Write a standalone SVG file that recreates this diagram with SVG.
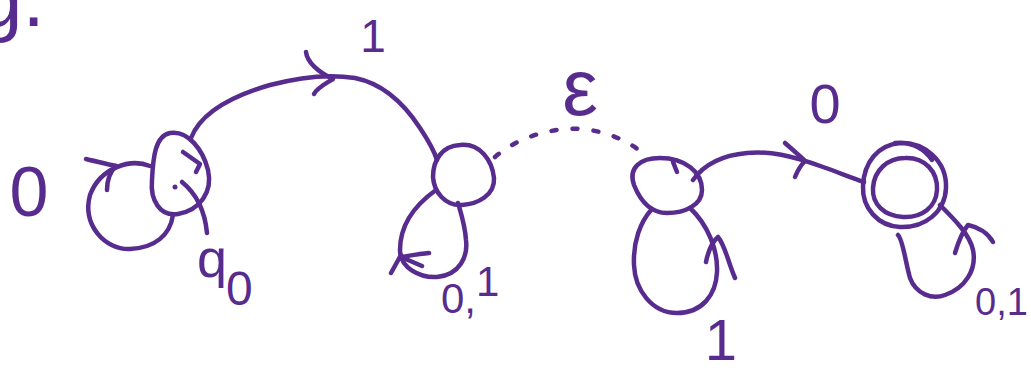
<svg xmlns="http://www.w3.org/2000/svg" width="1031" height="381" viewBox="0 0 1031 381">
  <style>
    .ink { fill: none; stroke: #582c8e; stroke-width: 4.5; stroke-linecap: round; stroke-linejoin: round; }
    .dotted { stroke-dasharray: 5 16; }
    .lbl { fill: #582c8e; font-family: "Liberation Sans", Arial, sans-serif; }
  </style>
  <rect width="1031" height="381" fill="#ffffff"/>

  <!-- heading fragment -->
  <text class="lbl" x="-22" y="26" font-size="80">g.</text>

  <!-- states -->
  <g id="q0">
    <path class="ink" d="M170,133 C188,130 203,150 208,170 C213,192 200,210 178,214 C160,217 150,200 152,180 C153,158 155,136 170,133 Z"/>
    <path class="ink" d="M183,152 L200,164 L196,172"/>
    <text class="lbl" x="197" y="277" font-size="54">q</text>
    <text class="lbl" x="226" y="305" font-size="48">0</text>
  </g>

  <g id="q1">
    <path class="ink" d="M460,145 C480,143 492,160 494,178 C495,195 478,204 462,205 C445,206 434,192 433,177 C433,160 442,146 460,145 Z"/>
  </g>

  <g id="q2">
    <path class="ink" d="M660,158 C685,158 702,172 702,190 C702,205 685,213 667,213 C650,213 640,200 634,185 C628,168 640,158 660,158 Z"/>
    <path class="ink" d="M673,162 L677,172"/>
  </g>

  <g id="q3">
    <path class="ink" d="M895,143 C925,140 947,162 946,188 C945,212 925,228 900,227 C878,226 862,208 863,186 C864,162 878,145 900,143 C915,143 925,150 932,160"/>
    <path class="ink" d="M905,158 C925,157 938,172 937,190 C936,207 922,218 903,217 C884,216 872,204 873,188 C874,170 888,158 905,158 Z"/>
  </g>

  <!-- transitions -->
  <g id="connectors">
    <!-- start arrow into q0 -->
    <path class="ink" d="M207,233 C205,212 198,195 182,182"/>
    <circle cx="175" cy="187" r="2.5" fill="#582c8e"/>

    <!-- q0 self loop on 0 -->
    <path class="ink" d="M150,166 C130,158 100,168 90,195 C82,225 105,250 130,249 C155,248 170,235 173,215"/>
    <path class="ink" d="M86,159 C98,162 108,164 116,166 M107,190 C107,180 110,172 116,166"/>

    <!-- q0 to q1 on 1 -->
    <path class="ink" d="M191,138 C200,115 225,98 270,85 C300,77 330,74 355,78 C385,84 405,105 420,128 C428,140 434,150 437,160"/>
    <path class="ink" d="M306,52 C307,62 318,72 333,79 C325,84 317,88 314,94"/>

    <!-- q1 self loop on 0,1 -->
    <path class="ink" d="M436,190 C415,205 400,225 400,250 C400,268 420,278 437,277 C460,275 468,256 466,240 C465,225 460,210 458,203"/>
    <path class="ink" d="M429,253 C418,254 408,256 401,257 C408,260 415,263 422,266 M401,255 L391,273"/>

    <!-- q1 to q2 on epsilon -->
    <path class="ink dotted" d="M495,157 C520,135 560,125 590,130 C615,134 635,145 648,158"/>

    <!-- q2 self loop on 1 -->
    <path class="ink" d="M652,209 C640,222 633,242 634,265 C635,290 652,313 677,313 C702,313 716,295 717,272 C718,250 708,225 690,208"/>
    <path class="ink" d="M706,262 C708,252 711,243 718,237 C725,245 728,262 735,278"/>

    <!-- q2 to q3 on 0 -->
    <path class="ink" d="M693,180 C705,163 725,155 747,153 C770,151 790,155 823,167 C840,173 852,178 864,182"/>
    <path class="ink" d="M785,143 C793,150 800,156 805,161 C800,166 797,172 795,177"/>

    <!-- q3 self loop on 0,1 -->
    <path class="ink" d="M898,235 C903,240 905,260 910,278 C916,294 932,300 945,295 C965,288 977,270 973,250 C970,235 955,220 940,205"/>
    <path class="ink" d="M955,253 C958,243 962,232 968,225 C978,227 988,233 993,242"/>
  </g>

  <!-- transition labels -->
  <g id="labels">
    <text class="lbl" x="29" y="216" font-size="70" text-anchor="middle">0</text>
    <text class="lbl" x="373" y="52" font-size="46" text-anchor="middle">1</text>
    <text class="lbl" x="441" y="313" font-size="42">0,<tspan dy="-17">1</tspan></text>
    <text class="lbl" x="580" y="115" font-size="80" text-anchor="middle">ε</text>
    <text class="lbl" x="721" y="360" font-size="58" text-anchor="middle">1</text>
    <text class="lbl" x="825" y="123" font-size="56" text-anchor="middle">0</text>
    <text class="lbl" x="975" y="315" font-size="38">0,1</text>
  </g>
</svg>
